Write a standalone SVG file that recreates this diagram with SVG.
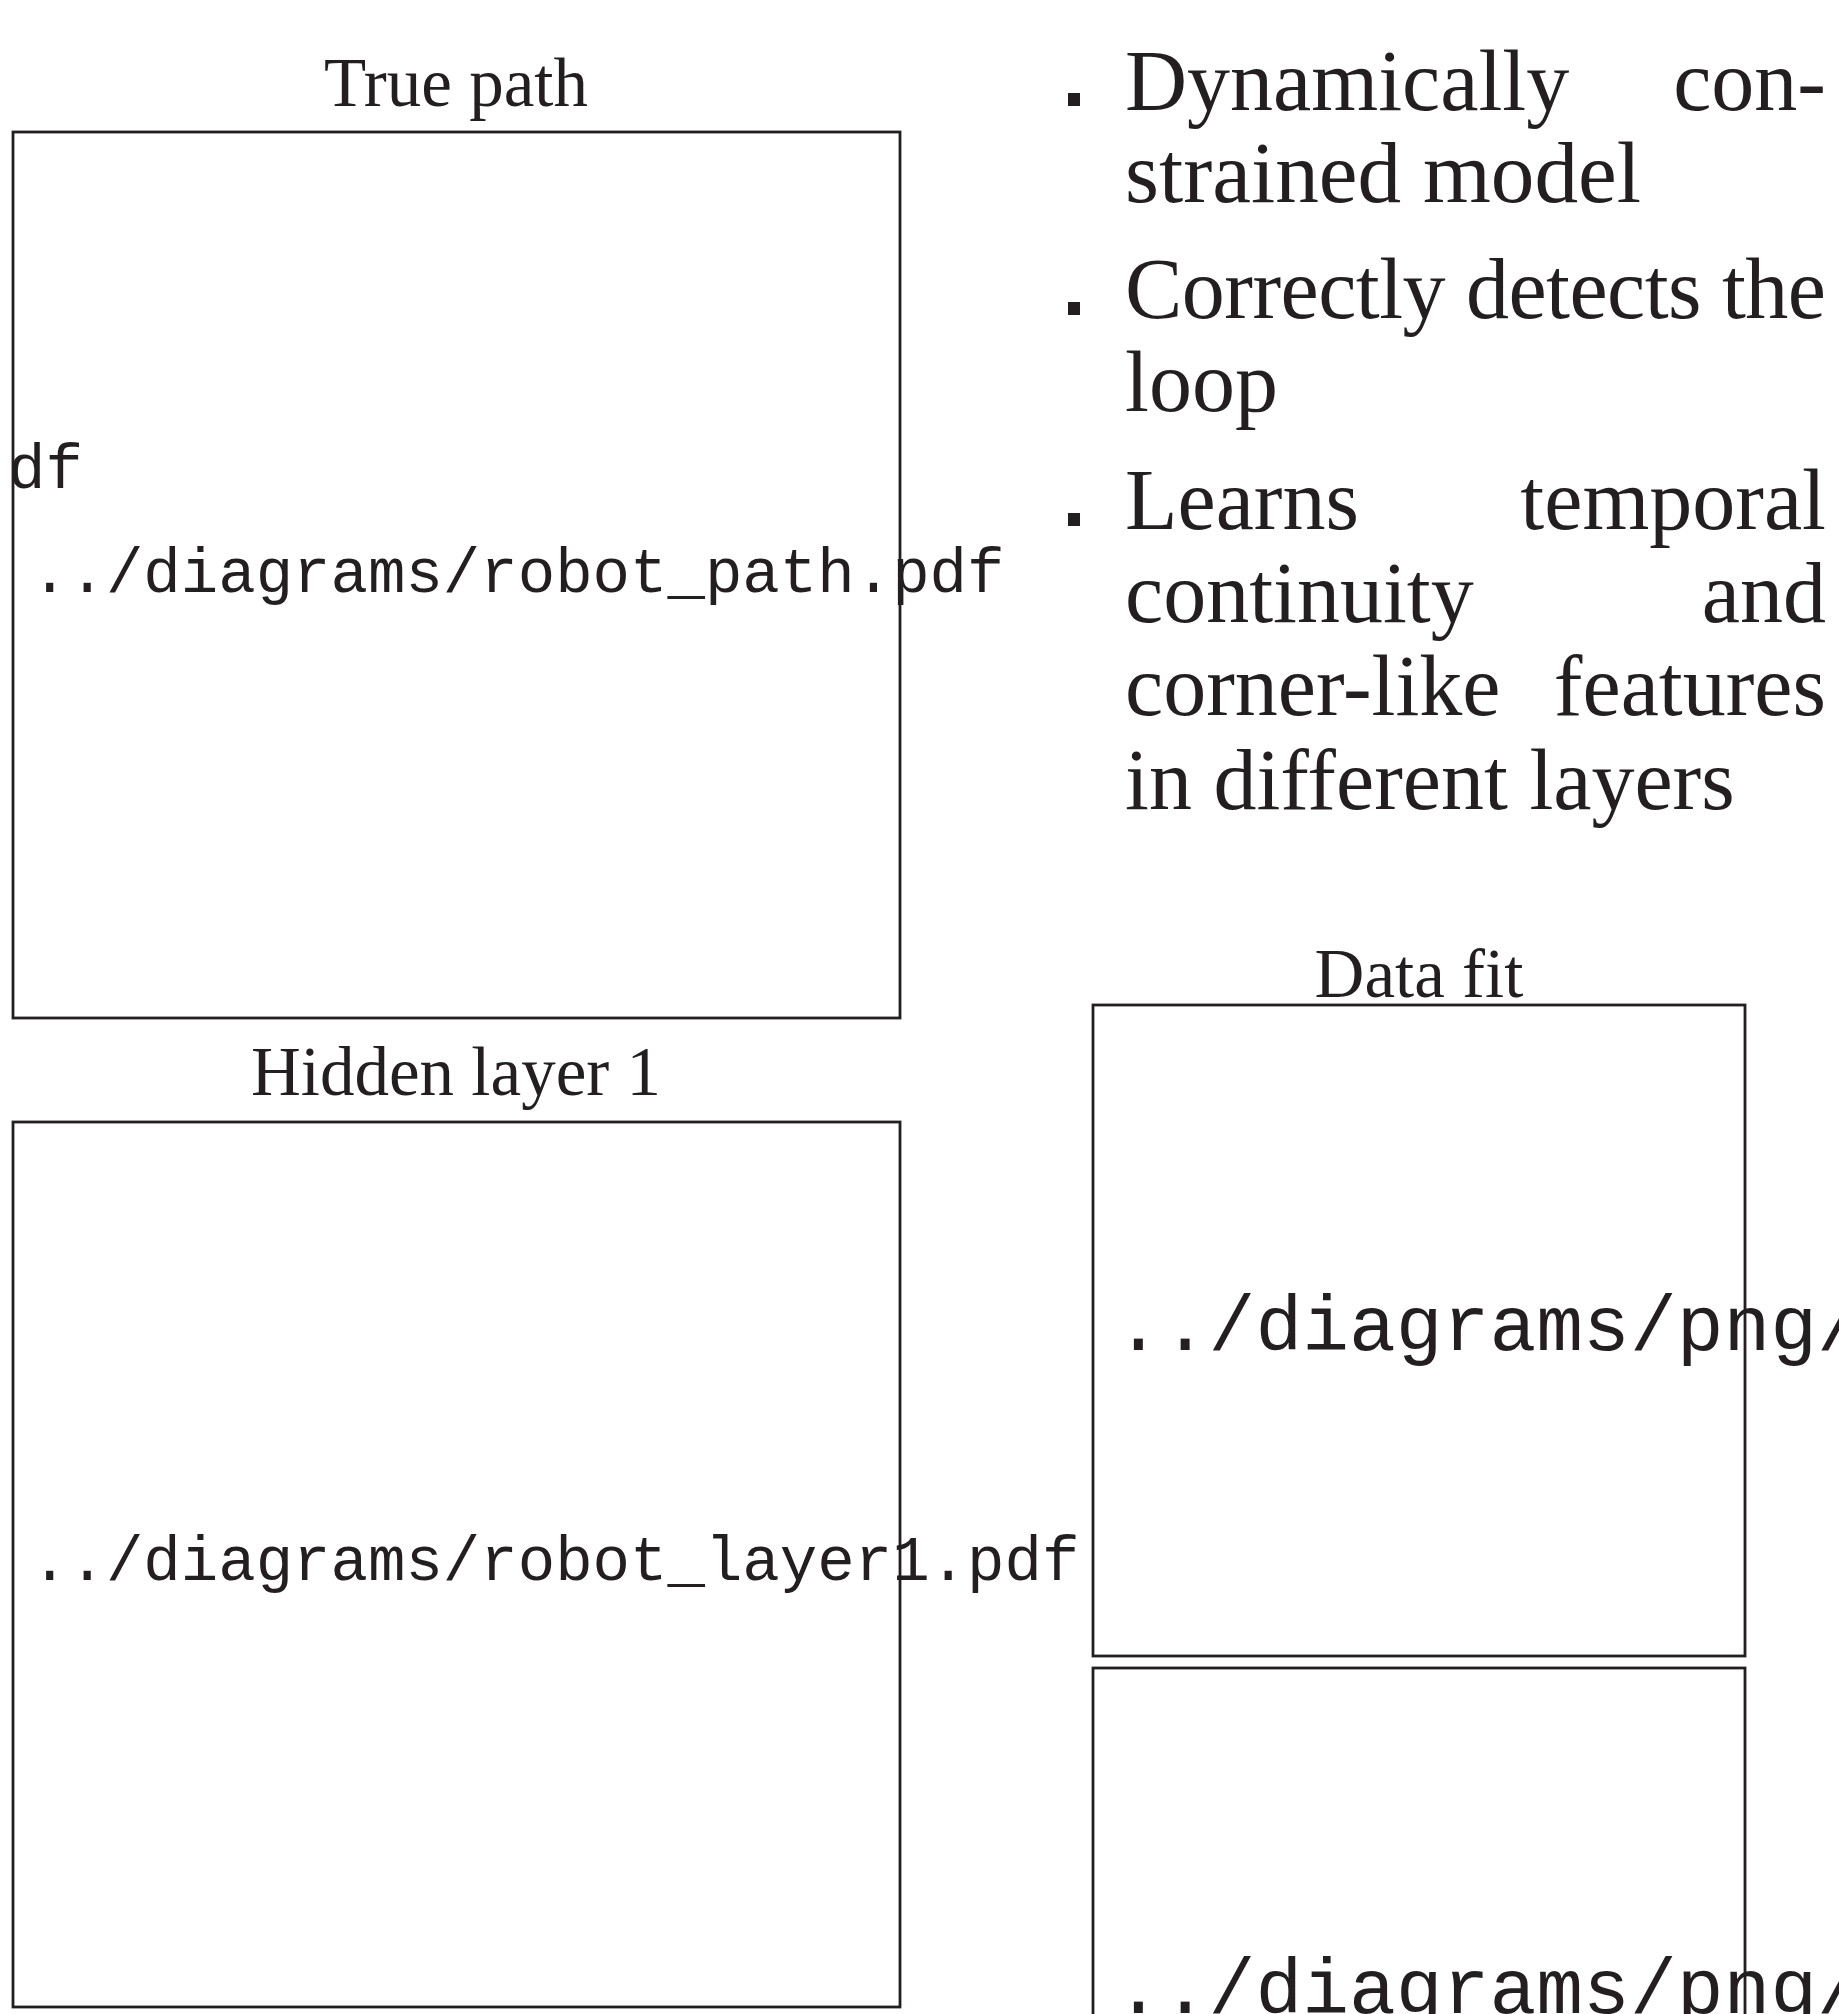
<svg xmlns="http://www.w3.org/2000/svg" width="1839" height="2014" viewBox="0 0 1839 2014">
<style>
.box{fill:#ffffff;stroke:#231f20;stroke-width:2.8}
.title{font-family:"Liberation Serif","Times New Roman",serif;font-size:69px;fill:#231f20;text-anchor:middle}
.mono{font-family:"Liberation Mono","Courier New",monospace;font-size:62.4px;fill:#231f20}
.mono2{font-family:"Liberation Mono","Courier New",monospace;font-size:78px;fill:#231f20}
.body{font-family:"Liberation Serif","Times New Roman",serif;font-size:86px;fill:#231f20}
.end{text-anchor:end}
.bullet{fill:#231f20}
</style>
<rect width="1839" height="2014" fill="#ffffff"/>
<g id="true-path">
  <text class="title" x="456" y="106">True path</text>
  <rect class="box" x="13" y="132" width="887" height="886"/>
  <text class="mono" x="8" y="488">df</text>
  <text class="mono" x="31" y="592">../diagrams/robot_path.pdf</text>
</g>
<g id="hidden-layer-1">
  <text class="title" x="456" y="1095">Hidden layer 1</text>
  <rect class="box" x="13" y="1122" width="887" height="885"/>
  <text class="mono" x="31" y="1580">../diagrams/robot_layer1.pdf</text>
</g>
<g id="bullets">
  <rect class="bullet" x="1068" y="93" width="12" height="13"/>
  <text class="body" x="1125" y="110">Dynamically</text>
  <text class="body end" x="1826" y="110">con-</text>
  <text class="body" x="1125" y="202" textLength="516" lengthAdjust="spacingAndGlyphs">strained model</text>
  <rect class="bullet" x="1068" y="302" width="12" height="13"/>
  <text class="body" x="1125" y="318" textLength="701" lengthAdjust="spacing">Correctly detects the</text>
  <text class="body" x="1125" y="411">loop</text>
  <rect class="bullet" x="1068" y="513" width="12" height="13"/>
  <text class="body" x="1125" y="529">Learns</text>
  <text class="body end" x="1826" y="529">temporal</text>
  <text class="body" x="1125" y="622">continuity</text>
  <text class="body end" x="1826" y="622">and</text>
  <text class="body" x="1125" y="715">corner-like</text>
  <text class="body end" x="1826" y="715">features</text>
  <text class="body" x="1125" y="809">in different layers</text>
</g>
<g id="data-fit">
  <text class="title" x="1419" y="997">Data fit</text>
  <rect class="box" x="1093" y="1005" width="652" height="651"/>
  <text class="mono2" x="1115" y="1350">../diagrams/png/</text>
</g>
<g id="data-fit-2">
  <rect class="box" x="1093" y="1668" width="652" height="652"/>
  <text class="mono2" x="1115" y="2013">../diagrams/png/</text>
</g>
<g id="connectors"/>
</svg>
